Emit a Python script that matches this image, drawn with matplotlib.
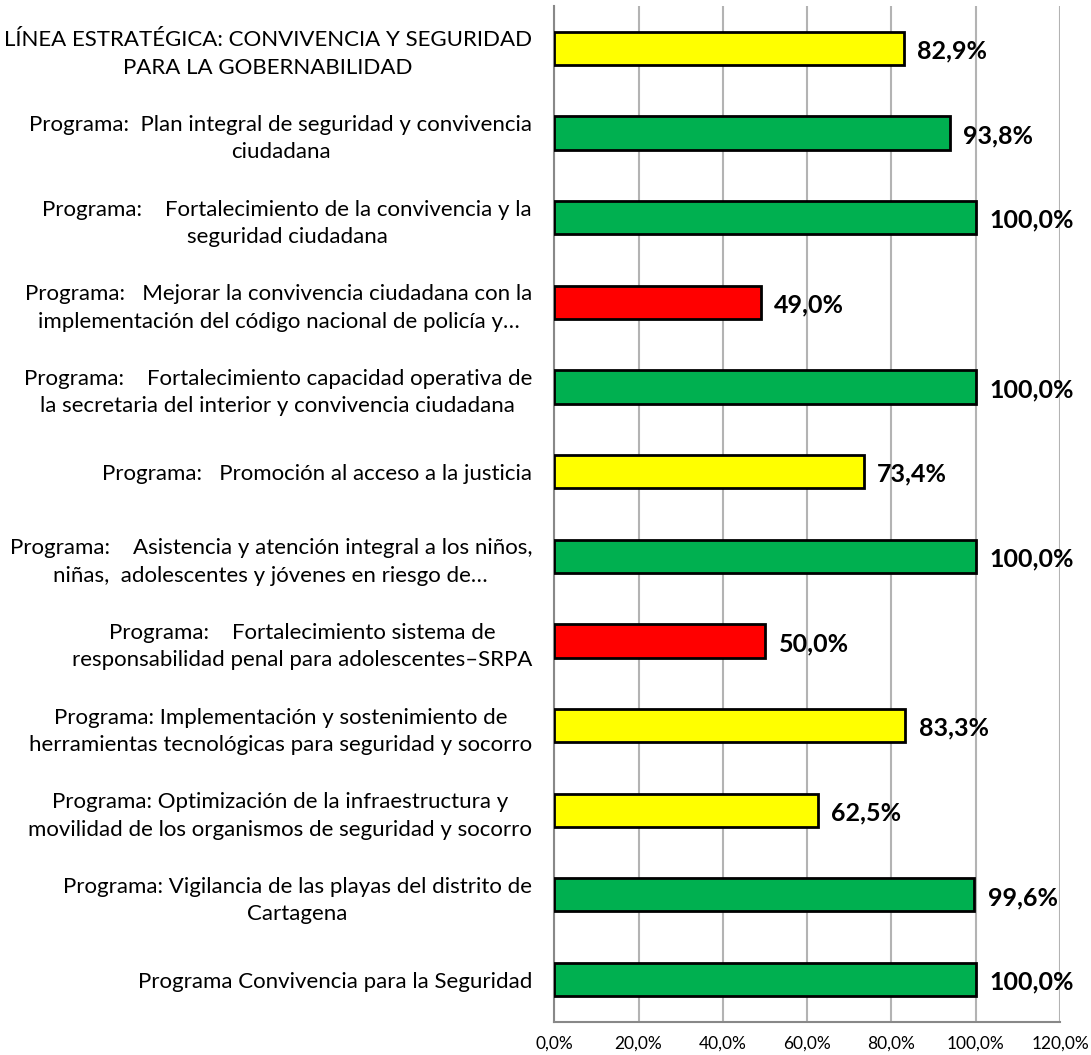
import matplotlib.pyplot as plt
import numpy as np

plt.rcParams['font.family'] = ['Lato', 'DejaVu Sans']

# Datos
categorias = [
    "LÍNEA ESTRATÉGICA: CONVIVENCIA Y SEGURIDAD\nPARA LA GOBERNABILIDAD",
    "Programa:  Plan integral de seguridad y convivencia\nciudadana",
    "Programa:    Fortalecimiento de la convivencia y la\nseguridad ciudadana",
    "Programa:   Mejorar la convivencia ciudadana con la\nimplementación del código nacional de policía y…",
    "Programa:    Fortalecimiento capacidad operativa de\nla secretaria del interior y convivencia ciudadana",
    "Programa:   Promoción al acceso a la justicia",
    "Programa:    Asistencia y atención integral a los niños,\nniñas,  adolescentes y jóvenes en riesgo de…",
    "Programa:    Fortalecimiento sistema de\nresponsabilidad penal para adolescentes–SRPA",
    "Programa: Implementación y sostenimiento de\nherramientas tecnológicas para seguridad y socorro",
    "Programa: Optimización de la infraestructura y\nmovilidad de los organismos de seguridad y socorro",
    "Programa: Vigilancia de las playas del distrito de\nCartagena",
    "Programa Convivencia para la Seguridad",
]
valores = [82.9, 93.8, 100.0, 49.0, 100.0, 73.4, 100.0, 50.0, 83.3, 62.5, 99.6, 100.0]
semaforo = ["amarillo", "verde", "verde", "rojo", "verde", "amarillo",
            "verde", "rojo", "amarillo", "amarillo", "verde", "verde"]
ticks_x = [0, 20, 40, 60, 80, 100, 120]

colores = {"verde": "#00B050", "amarillo": "#FFFF00", "rojo": "#FF0000"}

fig = plt.figure(figsize=(10.91, 10.55), dpi=100)
ax = fig.add_axes([0.508, 0.0313, 0.4636, 0.963])

y = np.arange(len(categorias))
ax.barh(y, valores, height=0.39, color=[colores[s] for s in semaforo],
        edgecolor='black', linewidth=2, zorder=3)

for yi, v in zip(y, valores):
    ax.text(v + 3.2, yi + 0.03, f"{v:.1f}%".replace('.', ','), va='center', ha='left',
            fontsize=18, fontweight='bold', zorder=4)

ax.set_ylim(len(categorias) - 0.5, -0.5)
ax.set_xlim(0, 120)
ax.set_xticks(ticks_x)
ax.set_xticklabels([f"{t:.1f}%".replace('.', ',') for t in ticks_x], fontsize=12.5)
ax.set_yticks(y)
ax.set_yticklabels(categorias, fontsize=16, multialignment='center', linespacing=1.45)
ax.tick_params(axis='y', length=0, pad=16)
ax.tick_params(axis='x', length=0, pad=10)

ax.grid(axis='x', color='#B3B3B3', linewidth=1.5, zorder=0)
for s in ['top', 'right']:
    ax.spines[s].set_visible(False)
ax.spines['left'].set_color('#888888')
ax.spines['left'].set_linewidth(1.5)
ax.spines['bottom'].set_color('#888888')
ax.spines['bottom'].set_linewidth(1.5)

plt.savefig('out.png', dpi=100)
